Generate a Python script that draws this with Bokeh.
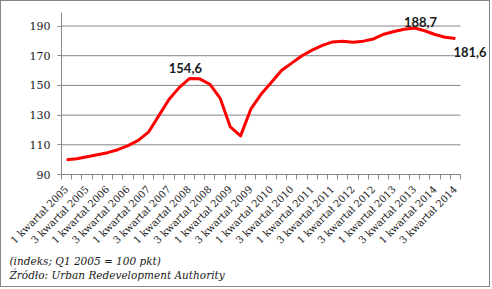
import math
from bokeh.plotting import figure
from bokeh.models import FixedTicker, Range1d, Label, Title
from bokeh.embed import file_html
from bokeh.resources import INLINE

years = [2005, 2006, 2007, 2008, 2009, 2010, 2011, 2012, 2013, 2014]
quarter_names = ["1 kwartał", "2 kwartał", "3 kwartał", "4 kwartał"]
categories = [f"{q} {y}" for y in years for q in quarter_names][:39]

values = [100.0, 100.6, 102.0, 103.3, 104.7, 106.7, 109.5, 113.0, 118.5, 129.5,
          140.5, 148.5, 154.6, 154.4, 150.8, 141.5, 122.0, 116.0, 134.0, 144.0,
          152.0, 160.0, 165.0, 170.0, 173.8, 177.0, 179.3, 179.8, 179.0, 179.8,
          181.3, 184.5, 186.3, 187.8, 188.7, 186.8, 184.3, 182.4, 181.6]

y_ticks = [90, 110, 130, 150, 170, 190]
label_idx = [12, 34, 38]
footnotes = ["(indeks; Q1 2005 = 100 pkt)", "Źródło: Urban Redevelopment Authority"]

GREY = "#868686"
n = len(categories)
xs = list(range(n))

p = figure(width=490, height=287, x_range=Range1d(-0.5, 41.43), y_range=Range1d(90, 199.1),
           output_backend="svg", toolbar_location=None,
           min_border_left=60, min_border_right=1, min_border_top=11, min_border_bottom=114,
           styles={"border": "1px solid " + GREY})
p.outline_line_color = None
p.xgrid.visible = False
p.ygrid.visible = False
p.background_fill_color = "white"
p.border_fill_color = "white"

# horizontal gridlines across the category span
gy = y_ticks[1:]
p.segment(x0=[-0.5] * len(gy), x1=[n - 0.5] * len(gy), y0=gy, y1=gy, line_color=GREY, line_width=1)

# y axis
p.yaxis.ticker = FixedTicker(ticks=y_ticks)
p.yaxis.axis_line_color = GREY
p.yaxis.major_tick_line_color = GREY
p.yaxis.major_tick_out = 4
p.yaxis.major_tick_in = 0
p.yaxis.minor_tick_line_color = None
p.yaxis.major_label_text_font = "DejaVu Serif"
p.yaxis.major_label_text_font_size = "11px"
p.yaxis.major_label_text_color = "#1a1a1a"
p.yaxis.major_label_standoff = 7

# x axis
major = xs[::2]
p.xaxis.ticker = FixedTicker(ticks=major, minor_ticks=[i - 0.5 for i in range(n + 1)])
p.xaxis.major_label_overrides = {i: categories[i] for i in major}
p.xaxis.bounds = (-0.5, n - 0.5)
p.xaxis.axis_line_color = GREY
p.xaxis.major_tick_line_color = None
p.xaxis.major_tick_out = 0
p.xaxis.major_tick_in = 0
p.xaxis.minor_tick_line_color = GREY
p.xaxis.minor_tick_out = 5
p.xaxis.minor_tick_in = 0
p.xaxis.major_label_orientation = math.pi / 4
p.xaxis.major_label_text_font = "DejaVu Serif"
p.xaxis.major_label_text_font_size = "10px"
p.xaxis.major_label_text_color = "#1a1a1a"
p.xaxis.major_label_standoff = 8

p.line(xs, values, line_color="#FF0000", line_width=3, line_join="round")

offsets = [(-4, 11, "center"), (6, 6, "center"), (-2, -14, "left")]
for idx, (dx, dy, al) in zip(label_idx, offsets):
    p.add_layout(Label(x=xs[idx], y=values[idx], text=f"{values[idx]:.1f}".replace(".", ","),
                       x_offset=dx, y_offset=dy, text_align=al, text_baseline="alphabetic",
                       text_font="Lato", text_font_style="bold", text_font_size="13px",
                       text_color="#1a1a1a"))

for t in footnotes:
    p.add_layout(Title(text=t, align="left", offset=-52, standoff=0,
                       text_font="DejaVu Serif", text_font_style="italic", text_font_size="10.5px",
                       text_color="#1a1a1a"), "below")

open("out.html", "w").write(file_html(p, INLINE))
